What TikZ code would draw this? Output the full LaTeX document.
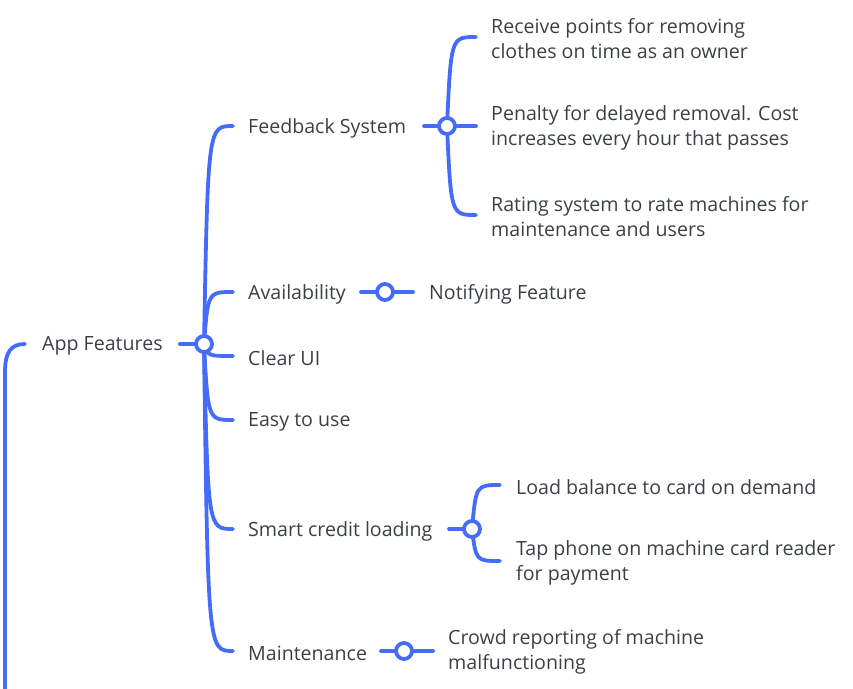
\documentclass[tikz,border=0pt]{standalone}
\usepackage{fontspec}
\setmainfont{Open Sans}
\definecolor{branch}{HTML}{446CF6}
\definecolor{txt}{HTML}{3C4046}
\tikzset{
  lbl/.style={anchor=west, inner sep=0pt, text=txt, font=\fontsize{19.6}{25}\selectfont, align=left},
  br/.style={draw=branch, line width=3.8pt, line cap=round},
  hub/.style={circle, draw=branch, fill=white, line width=3.8pt, minimum size=16pt, inner sep=0pt}
}
\begin{document}
\begin{tikzpicture}[x=1pt,y=-1pt]
\useasboundingbox (0,0) rectangle (853,688);
% root stub
\coordinate (rootbot) at (5,700);
\coordinate (rootend) at (25,344);
\draw[br] (rootbot) -- (5,372) .. controls (5,352) and (11,344) .. (rootend);
% App Features
\node[lbl] (app) at (42,346) {App Features};
\coordinate (appout) at (180,344);
\coordinate (apphub) at (204,344);
% children of App Features
\node[lbl] (fb) at (248,128) {Feedback System};
\node[lbl] (av) at (248,294) {Availability};
\node[lbl] (ui) at (248,358) {Clear UI};
\node[lbl] (eu) at (248,422) {Easy to use};
\node[lbl] (sc) at (248,531) {Smart credit loading};
\node[lbl] (mt) at (248,653) {Maintenance};
\draw[br] (appout) -- (apphub);
\foreach \y in {126, 292, 356, 420, 529, 651}{
  \draw[br] (apphub) .. controls (208,\y) and (208,\y) .. (233,\y);
}
\node[hub] (apphubc) at (apphub) {};
% Feedback children
\coordinate (fbout) at (424,126);
\coordinate (fbhub) at (447,126);
\node[lbl] (f1) at (491,39) {Receive points for removing\\clothes on time as an owner};
\node[lbl] (f2) at (491,128) {Penalty for delayed removal. Cost\\increases every hour that passes};
\node[lbl] (f3) at (491,217) {Rating system to rate machines for\\maintenance and users};
\draw[br] (fbout) -- (fbhub);
\foreach \y in {37, 126, 215}{
  \draw[br] (fbhub) .. controls (451,\y) and (451,\y) .. (476,\y);
}
\node[hub] (fbhubc) at (fbhub) {};
% Availability child
\node[lbl] (nf) at (429,294) {Notifying Feature};
\coordinate (avhub) at (385,292);
\draw[br] (361,292) -- (avhub) -- (413,292);
\node[hub] (avhubc) at (avhub) {};
% Smart credit children
\coordinate (schub) at (472,529);
\node[lbl] (s1) at (516,487) {Load balance to card on demand};
\node[lbl] (s2) at (516,563) {Tap phone on machine card reader\\for payment};
\draw[br] (449,529) -- (schub);
\foreach \y in {485, 561}{
  \draw[br] (schub) .. controls (476,\y) and (476,\y) .. (500,\y);
}
\node[hub] (schubc) at (schub) {};
% Maintenance child
\coordinate (mthub) at (404,651);
\node[lbl] (m1) at (448,652) {Crowd reporting of machine\\malfunctioning};
\draw[br] (381,651) -- (mthub) -- (433,651);
\node[hub] (mthubc) at (mthub) {};
\end{tikzpicture}
\end{document}
